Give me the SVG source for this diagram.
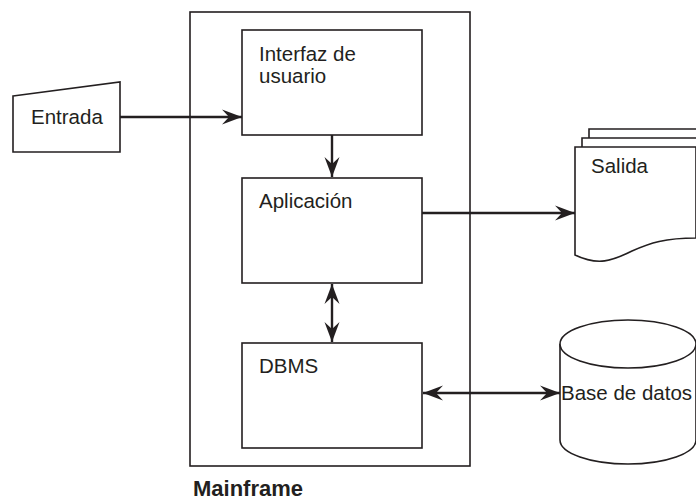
<svg xmlns="http://www.w3.org/2000/svg" width="696" height="502" viewBox="0 0 696 502">
<style>
.box{fill:#fff;stroke:#231f20;stroke-width:1.6}
.shape{fill:#fff;stroke:#231f20;stroke-width:1.6}
.lbl{font-family:"Liberation Sans",Arial,sans-serif;font-size:20.5px;fill:#231f20}
.title{font-family:"Liberation Sans",Arial,sans-serif;font-size:22px;font-weight:bold;fill:#231f20}
.conn{fill:none;stroke:#231f20;stroke-width:2.4}
</style>
<defs>
<marker id="ah" markerUnits="userSpaceOnUse" markerWidth="22" markerHeight="16" refX="20" refY="8" orient="auto-start-reverse">
<path d="M0,0.5 L20,8 L0,15.5 L7,8 z" fill="#231f20"/>
</marker>
</defs>
<g id="mainframe">
<rect class="box" x="190" y="12" width="280" height="454"/>
<text class="title" x="193" y="496">Mainframe</text>
</g>
<g id="interfaz">
<rect class="box" x="242" y="30" width="180" height="105"/>
<text class="lbl" x="259" y="61">Interfaz de</text>
<text class="lbl" x="259" y="83">usuario</text>
</g>
<g id="aplicacion">
<rect class="box" x="242" y="178" width="180" height="105"/>
<text class="lbl" x="259" y="208">Aplicación</text>
</g>
<g id="dbms">
<rect class="box" x="242" y="343" width="180" height="105"/>
<text class="lbl" x="259" y="373">DBMS</text>
</g>
<g id="entrada">
<path class="shape" d="M13,96 L120,82 L120,152 L13,152 Z"/>
<text class="lbl" x="31" y="124">Entrada</text>
</g>
<g id="salida">
<path class="shape" d="M589,138 V129 H700 V140"/>
<path class="shape" d="M582,147 V138 H700 V148"/>
<path class="shape" d="M575,147 H696 V238 C665,238 650,243 632,251 C612,261 598,266 575,255 Z"/>
<text class="lbl" x="591" y="173">Salida</text>
</g>
<g id="basedatos">
<path class="shape" d="M560,344 V440 A68,24 0 0 0 696,440 V344"/>
<ellipse class="shape" cx="628" cy="344" rx="68" ry="24"/>
<text class="lbl" x="561" y="400">Base de datos</text>
</g>
<g id="connectors">
<line class="conn" x1="120" y1="117" x2="242" y2="117" marker-end="url(#ah)"/>
<line class="conn" x1="332" y1="135" x2="332" y2="177" marker-end="url(#ah)"/>
<line class="conn" x1="332" y1="284" x2="332" y2="342" marker-start="url(#ah)" marker-end="url(#ah)"/>
<line class="conn" x1="422" y1="213" x2="575" y2="213" marker-end="url(#ah)"/>
<line class="conn" x1="423" y1="393" x2="560" y2="393" marker-start="url(#ah)" marker-end="url(#ah)"/>
</g>
</svg>
